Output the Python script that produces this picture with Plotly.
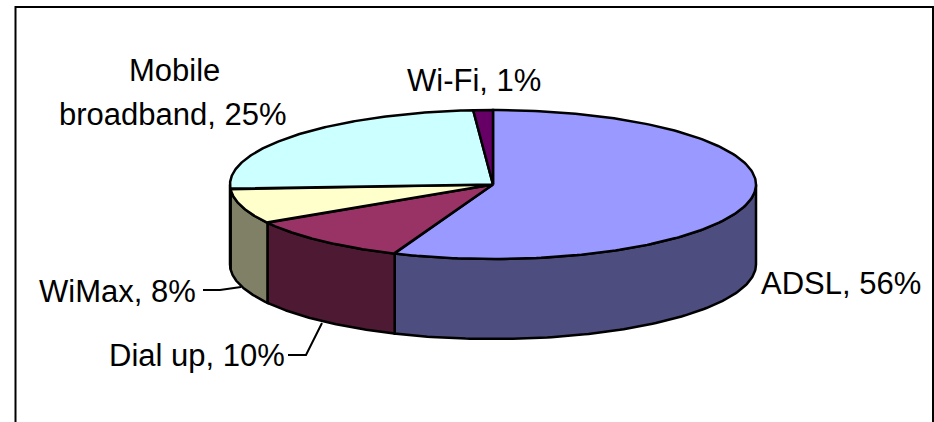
import numpy as np
import plotly.graph_objects as go

# --- data ---
categories = ["ADSL", "Dial up", "WiMax", "Mobile broadband", "Wi-Fi"]
shares = [56.1, 10.3, 7.6, 24.8, 1.2]
top_colors = ["#9999FF", "#993366", "#FFFFCC", "#CCFFFF", "#660066"]
side_colors = ["#4D4D80", "#4D1933", "#808066", "#668080", "#330033"]

# --- projection of the 3-D disc onto the page (pixels) ---
CX, CY, RX, RY, DEPTH = 493, 184.5, 263, 74.5, 80
LINE = dict(color="black", width=2.5)


def rim(t_deg, drop=0.0):
    t = np.radians(t_deg)
    return CX + RX * np.sin(t), CY - RY * np.cos(t) + drop


def label(i):
    return f"{categories[i]}, {round(shares[i])}%"


fig = go.Figure()
edges = np.concatenate([[0], np.cumsum(shares)]) / sum(shares) * 360.0

# walls first: only the part of the rim that faces the viewer
for i, name in enumerate(categories):
    a, b = max(edges[i], 90.0), min(edges[i + 1], 270.0)
    if b <= a:
        continue
    t = np.linspace(a, b, 120)
    xt, yt = rim(t)
    xb, yb = rim(t[::-1], DEPTH)
    fig.add_trace(go.Scatter(
        x=np.r_[xt, xb, xt[0]], y=np.r_[yt, yb, yt[0]], mode="lines",
        fill="toself", fillcolor=side_colors[i], line=LINE,
        hoverinfo="skip", showlegend=False, name=name + " side"))

# top face
for i, name in enumerate(categories):
    t = np.linspace(edges[i], edges[i + 1], 200)
    xt, yt = rim(t)
    fig.add_trace(go.Scatter(
        x=np.r_[CX, xt, CX], y=np.r_[CY, yt, CY], mode="lines",
        fill="toself", fillcolor=top_colors[i], line=LINE,
        hoverinfo="text", text=label(i), showlegend=False, name=name))

FONT = dict(family="Liberation Sans, Arial, sans-serif", size=31, color="black")
texts = [
    (label(0), 841, 294),
    (label(1), 196.5, 366),
    (label(2), 117.5, 302),
    ("Mobile", 174, 81),
    (f"broadband, {round(shares[3])}%", 172.5, 125),
    (label(4), 473.5, 91),
]
BASE_OFFSET = 10.5
annotations = [
    dict(x=x, y=y - BASE_OFFSET, text=s, showarrow=False, xanchor="center", yanchor="middle",
         font=FONT, xref="x", yref="y", borderpad=0)
    for s, x, y in texts
]

shapes = [
    dict(type="path", path="M 203 290 L 220 290 L 241 287", xref="x", yref="y",
         line=dict(color="black", width=2)),
    dict(type="path", path="M 288 355 L 306 355 L 322 323", xref="x", yref="y",
         line=dict(color="black", width=2)),
    # chart frame, its bottom edge falls outside the page
    dict(type="path", path="M 15.5 430 L 15.5 7 L 933 7 L 933 430", xref="x", yref="y",
         line=dict(color="black", width=2)),
]

fig.update_layout(
    width=934, height=422, margin=dict(l=0, r=0, t=0, b=0),
    paper_bgcolor="white", plot_bgcolor="white", showlegend=False,
    xaxis=dict(range=[0, 934], visible=False, fixedrange=True),
    yaxis=dict(range=[422, 0], visible=False, fixedrange=True),
    annotations=annotations, shapes=shapes,
)
fig.write_html("out.html", config=dict(displayModeBar=False),
               post_script="document.body.style.margin='0';document.body.style.overflow='hidden';")
